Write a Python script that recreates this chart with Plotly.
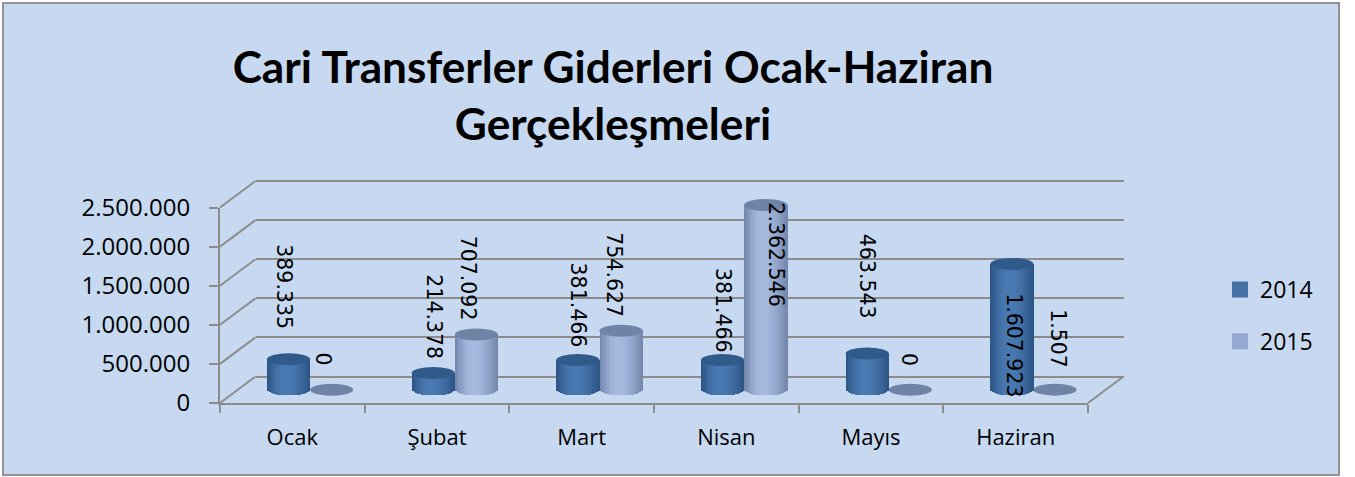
import math
import plotly.graph_objects as go

TITLE = "Cari Transferler Giderleri Ocak-Haziran<br>Gerçekleşmeleri"
CATEGORIES = ["Ocak", "Şubat", "Mart", "Nisan", "Mayıs", "Haziran"]
VALUES_2014 = [389335, 214378, 381466, 381466, 463543, 1607923]
VALUES_2015 = [0, 707092, 754627, 2362546, 0, 1507]
LABELS_2014 = ["389.335", "214.378", "381.466", "381.466", "463.543", "1.607.923"]
LABELS_2015 = ["0", "707.092", "754.627", "2.362.546", "0", "1.507"]
Y_TICKS = [0, 500000, 1000000, 1500000, 2000000, 2500000]
Y_TICKTEXT = ["0", "500.000", "1.000.000", "1.500.000", "2.000.000", "2.500.000"]

# pixel offsets of the rotated data labels relative to the top of their cylinder
SHIFT_2014 = [(-4, 28), (0, 12), (0, 10), (0, 5), (0, 33), (2, -135)]
SHIFT_2015 = [(-9, 22), (-8, 12), (-7, 11), (10, -103), (-2, 22), (3, 19)]

W, H = 1355, 477
GRID = "#8c8c8c"
PANEL = "#c6d9f1"
LABEL_FONT = "DejaVu Sans"
AXIS_FONT = "Open Sans"
TITLE_FONT = "Lato"

# chart geometry (pixels)
FX0, FX1, FY0, FY1 = 220, 1088, 403, 207.5      # front plane
DX, DY = 35.5, 26.5                              # depth offset
BW = 0.298                                       # cylinder width in category units
ELL_PX = 6.0                                     # half height of ellipse in px
PX_PER_UNIT = (FY0 - FY1) / 2500000
LOW = -250000
HIGH = 2600000
N_STRIPS = 24


def fx(x):
    return x / W


def fy(y):
    return 1 - y / H


def lerp(a, b, t):
    return tuple(a[i] + (b[i] - a[i]) * t for i in range(3))


def shade(dark, light, t):
    peak = 0.42
    u = t / peak if t < peak else (1 - t) / (1 - peak)
    c = lerp(dark, light, math.sin(u * math.pi / 2))
    return "rgb(%d,%d,%d)" % c


def strips(values, sign, dark, light, name):
    xs, ys, bases, cols = [], [], [], []
    ell = ELL_PX / PX_PER_UNIT
    sw = BW / N_STRIPS
    for i, v in enumerate(values):
        if v <= 5000:
            continue
        for k in range(N_STRIPS):
            t = (k + 0.5) / N_STRIPS
            curve = ell * math.sqrt(max(0, 1 - (2 * t - 1) ** 2))
            xs.append(i + sign * BW / 2 - BW / 2 + t * BW)
            bases.append(-curve)
            ys.append(v + curve)
            cols.append(shade(dark, light, t))
    return go.Bar(x=xs, y=ys, base=bases, width=sw * 1.12, name=name, showlegend=False,
                  marker=dict(color=cols, line=dict(width=0)), xaxis="x3", yaxis="y3",
                  hoverinfo="skip")


D14, L14 = (44, 84, 132), (74, 122, 178)
D15, L15 = (112, 134, 168), (166, 186, 224)
TOP14, TOP15 = "#2f5a8a", "#6e83a6"

fig = go.Figure()
fig.add_trace(go.Scatter(x=CATEGORIES, y=[None] * 6, xaxis="x", yaxis="y", showlegend=False, hoverinfo="skip"))
fig.add_trace(go.Scatter(x=[None], y=[None], xaxis="x2", yaxis="y2", showlegend=False, hoverinfo="skip"))
fig.add_trace(strips(VALUES_2014, -1, D14, L14, "2014"))
fig.add_trace(strips(VALUES_2015, 1, D15, L15, "2015"))
fig.add_trace(go.Bar(x=[None], y=[None], name="2014", xaxis="x3", yaxis="y3", legendgroup="a",
                     marker=dict(color="#4472a6", line=dict(color="#4472a6", width=4))))
fig.add_trace(go.Bar(x=[None], y=[None], name="2015", xaxis="x3", yaxis="y3", legendgroup="b",
                     marker=dict(color="#95a9d0", line=dict(color="#95a9d0", width=4))))

shapes = [dict(type="rect", xref="paper", yref="paper", x0=fx(3), x1=fx(1339), y0=fy(475), y1=fy(3),
               fillcolor=PANEL, line=dict(color="#929292", width=2), layer="below")]
for k in range(6):
    y = FY0 - k * (FY0 - FY1) / 5
    shapes.append(dict(type="line", xref="paper", yref="paper", x0=fx(FX0), x1=fx(FX0 + DX), y0=fy(y), y1=fy(y - DY),
                       line=dict(color=GRID, width=2), layer="below"))
shapes.append(dict(type="line", xref="paper", yref="paper", x0=fx(FX1), x1=fx(FX1 + DX), y0=fy(FY0), y1=fy(FY0 - DY),
                   line=dict(color=GRID, width=2), layer="below"))

ell = ELL_PX / PX_PER_UNIT
for values, sign, col in ((VALUES_2014, -1, TOP14), (VALUES_2015, 1, TOP15)):
    for i, v in enumerate(values):
        cx = i + sign * BW / 2
        shapes.append(dict(type="circle", xref="x3", yref="y3", x0=cx - BW / 2, x1=cx + BW / 2,
                           y0=v - ell, y1=v + ell, fillcolor=col, line=dict(width=0), layer="above"))

annotations = []
for labels, values, sign, shifts in ((LABELS_2014, VALUES_2014, -1, SHIFT_2014), (LABELS_2015, VALUES_2015, 1, SHIFT_2015)):
    for i, (t, v) in enumerate(zip(labels, values)):
        annotations.append(dict(x=i + sign * BW / 2, y=v, xref="x3", yref="y3", text=t, textangle=90, showarrow=False,
                                xanchor="center", yanchor="bottom", xshift=shifts[i][0], yshift=shifts[i][1],
                                font=dict(family=LABEL_FONT, size=20.5, color="black")))

pad_top = (HIGH - 2500000) * PX_PER_UNIT
pad_low = -LOW * PX_PER_UNIT

fig.update_layout(
    width=W, height=H, margin=dict(l=0, r=0, t=0, b=0, autoexpand=False), paper_bgcolor="white",
    plot_bgcolor="rgba(0,0,0,0)",
    barmode="overlay", bargap=0, shapes=shapes, annotations=annotations,
    title=dict(text=TITLE, x=613 / W, xanchor="center", y=fy(83), yanchor="top", pad=dict(t=0, b=0, l=0, r=0),
               font=dict(family=TITLE_FONT, size=44.2, color="black", weight="bold")),
    legend=dict(x=fx(1220), y=fy(268), xanchor="left", yanchor="top", bgcolor="rgba(0,0,0,0)",
                font=dict(family=AXIS_FONT, size=23, color="black"), tracegroupgap=19, traceorder="grouped",
                itemwidth=30),
    xaxis=dict(domain=[fx(FX0), fx(FX1)], type="category", categoryorder="array", categoryarray=CATEGORIES,
               range=[-0.5, 5.5], tickson="boundaries", ticks="outside", ticklen=8, tickwidth=2, tickcolor=GRID,
               showline=True, linecolor=GRID, linewidth=2, showgrid=False, zeroline=False,
               tickfont=dict(family=AXIS_FONT, size=22, color="black"), ticklabelstandoff=14, anchor="y"),
    yaxis=dict(domain=[fy(FY0), fy(FY1)], range=[0, 2500000], tickvals=Y_TICKS, ticktext=Y_TICKTEXT,
               ticks="outside", ticklen=9, tickwidth=2, tickcolor=GRID, showline=True, linecolor=GRID, linewidth=2,
               showgrid=False, zeroline=False, tickfont=dict(family=AXIS_FONT, size=24, color="black"),
               ticklabelstandoff=14, anchor="x"),
    xaxis2=dict(domain=[fx(FX0 + DX), fx(FX1 + DX)], range=[0, 1], visible=False, anchor="y2"),
    yaxis2=dict(domain=[fy(FY0 - DY + pad_low), fy(FY1 - DY - pad_top)], range=[LOW, HIGH], tickvals=Y_TICKS, showgrid=True,
                gridcolor=GRID, gridwidth=2, zeroline=False, showticklabels=False, ticks="", showline=False, anchor="x2"),
    xaxis3=dict(domain=[fx(FX0 + DX / 2), fx(FX1 + DX / 2)], range=[-0.5, 5.5], visible=False, anchor="y3"),
    yaxis3=dict(domain=[fy(FY0 - DY / 2 + pad_low), fy(FY1 - DY / 2)], range=[LOW, 2500000], visible=False, anchor="x3"),
)

fig.write_html("out.html", config=dict(displayModeBar=False),
               post_script="document.body.style.margin='0';document.documentElement.style.overflow='hidden';")
